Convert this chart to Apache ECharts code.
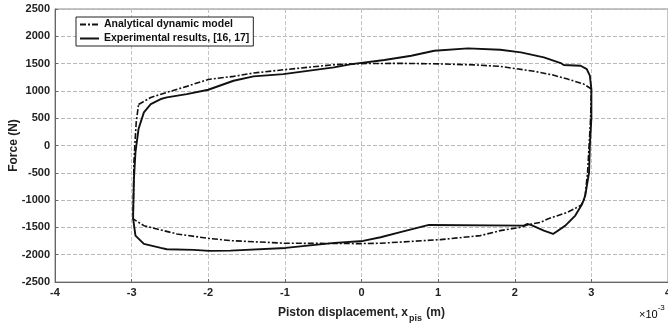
<!DOCTYPE html>
<html><head><meta charset="utf-8">
<script src="https://cdn.jsdelivr.net/npm/echarts@6/dist/echarts.min.js"></script>
<style>html,body{margin:0;padding:0;background:#fff}#c{width:668px;height:326px}</style>
</head><body><div id="c"></div>
<script>
const seriesNames = ['Analytical dynamic model', 'Experimental results, [16, 17]'];
const xTickMin = -4, xTickMax = 4, xTickStep = 1;
const yTickMin = -2500, yTickMax = 2500, yTickStep = 500;

const analyticalX = [-2.91,-2.75,-2.54,-2.28,-2.0,-1.67,-1.41,-1.02,-0.36,0,0.5,1.0,1.5,1.81,2.0,2.25,2.5,2.69,2.9,3.0,
  2.99,2.97,2.95,2.92,2.90,2.86,2.69,2.43,2.34,2.16,2.08,1.81,1.55,1.03,0.25,0,-1.0,-1.71,-2.0,-2.41,-2.84,-2.98,
  -2.97,-2.95,-2.94,-2.91];
const analyticalY = [750,880,974,1083,1210,1266,1327,1387,1479,1500,1505,1495,1475,1449,1410,1360,1290,1217,1125,1034,
  500,0,-500,-900,-1010,-1100,-1223,-1345,-1406,-1455,-1497,-1559,-1651,-1724,-1790,-1797,-1790,-1742,-1700,-1620,-1468,-1345,
  -300,200,425,750];

const experimentalX = [-2.97,-2.95,-2.91,-2.84,-2.75,-2.62,-2.54,-2.28,-2.0,-1.67,-1.41,-1.02,-0.36,-0.13,0.30,0.65,0.95,1.39,1.81,2.08,2.38,2.60,2.64,2.86,2.94,2.98,3.00,
  3.00,2.98,2.97,2.92,2.88,2.79,2.66,2.50,2.38,2.21,2.16,2.12,0.88,0.52,0.25,0.02,-0.35,-0.99,-1.71,-1.99,-2.19,-2.54,-2.62,-2.84,-2.95,-2.98,-2.98,-2.97];
const experimentalY = [-613,-124,302,607,759,851,882,942,1021,1186,1266,1308,1431,1491,1565,1643,1735,1779,1753,1706,1614,1510,1473,1461,1400,1278,1034,
  500,0,-490,-918,-1071,-1284,-1468,-1620,-1559,-1455,-1437,-1468,-1455,-1583,-1680,-1748,-1784,-1876,-1925,-1930,-1912,-1900,-1876,-1803,-1651,-1345,-1217,-613];

function pairs(xs, ys) { return xs.map((x, i) => [x, ys[i]]); }

const FONT = 'Liberation Sans, Arial, sans-serif';
const chart = echarts.init(document.getElementById('c'), null, {renderer: 'canvas'});
chart.setOption({
  animation: false,
  backgroundColor: '#fff',
  grid: {left: 55, right: 0, top: 9, bottom: 44, show: true, borderColor: '#8a8a8a', borderWidth: 1,
         containLabel: false, outerBoundsMode: 'none'},
  legend: {
    orient: 'vertical', left: 76, top: 17,
    data: seriesNames,
    backgroundColor: '#fff',
    borderColor: '#222', borderWidth: 1, borderRadius: 0,
    padding: [2, 4, 2, 3],
    itemWidth: 19, itemHeight: 10, itemGap: 3,
    itemStyle: {opacity: 0},
    textStyle: {fontFamily: FONT, fontWeight: 'bold', fontSize: 10.5, color: '#111'}
  },
  xAxis: {
    type: 'value', min: xTickMin, max: xTickMax, interval: xTickStep,
    axisLine: {show: true, onZero: false, lineStyle: {color: '#666', width: 1}},
    axisTick: {show: true, inside: true, length: 3, lineStyle: {color: '#666'}},
    axisLabel: {fontFamily: FONT, fontWeight: 'bold', fontSize: 11, color: '#222', margin: 5,
                formatter: v => String(v)},
    splitLine: {show: true, lineStyle: {color: '#c4c4c4', type: 'dashed', width: 1}},
    name: '{b|Piston displacement, x}{s|pis}{b| (m)}',
    nameLocation: 'middle', nameGap: 25, nameMoveOverlap: false,
    nameTextStyle: {
      rich: {
        b: {fontFamily: FONT, fontWeight: 'bold', fontSize: 12, color: '#222', lineHeight: 16, verticalAlign: 'top'},
        s: {fontFamily: FONT, fontWeight: 'bold', fontSize: 9, color: '#222', lineHeight: 16, verticalAlign: 'bottom', padding: [7, 1, 0, 1]}
      }
    }
  },
  yAxis: {
    type: 'value', min: yTickMin, max: yTickMax, interval: yTickStep,
    axisLine: {show: true, onZero: false, lineStyle: {color: '#666', width: 1}},
    axisTick: {show: true, inside: true, length: 3, lineStyle: {color: '#666'}},
    axisLabel: {fontFamily: FONT, fontWeight: 'bold', fontSize: 11, color: '#222', margin: 5,
                formatter: v => String(v)},
    splitLine: {show: true, lineStyle: {color: '#b8b8b8', type: 'dashed', width: 1}},
    name: 'Force (N)', nameLocation: 'middle', nameGap: 35, nameRotate: 90, nameMoveOverlap: false,
    nameTextStyle: {fontFamily: FONT, fontWeight: 'bold', fontSize: 12, color: '#222'}
  },
  graphic: [{
    type: 'text', left: 639, top: 303,
    style: {
      text: '{a|×10}{s|-3}',
      rich: {
        a: {fontFamily: FONT, fontSize: 11, color: '#222', lineHeight: 16, verticalAlign: 'bottom', padding: [6, 0, 0, 0]},
        s: {fontFamily: FONT, fontSize: 8, color: '#222', lineHeight: 16, verticalAlign: 'top'}
      }
    }
  }],
  series: [
    {
      name: seriesNames[0], type: 'line', showSymbol: false, symbol: 'none',
      data: pairs(analyticalX, analyticalY),
      lineStyle: {color: '#111', width: 1.6, type: [6, 2, 2, 2]},
      itemStyle: {color: '#111'}, z: 3
    },
    {
      name: seriesNames[1], type: 'line', showSymbol: false, symbol: 'none',
      data: pairs(experimentalX, experimentalY),
      lineStyle: {color: '#111', width: 1.9, type: 'solid'},
      itemStyle: {color: '#111'}, z: 4
    }
  ]
});
</script></body></html>
